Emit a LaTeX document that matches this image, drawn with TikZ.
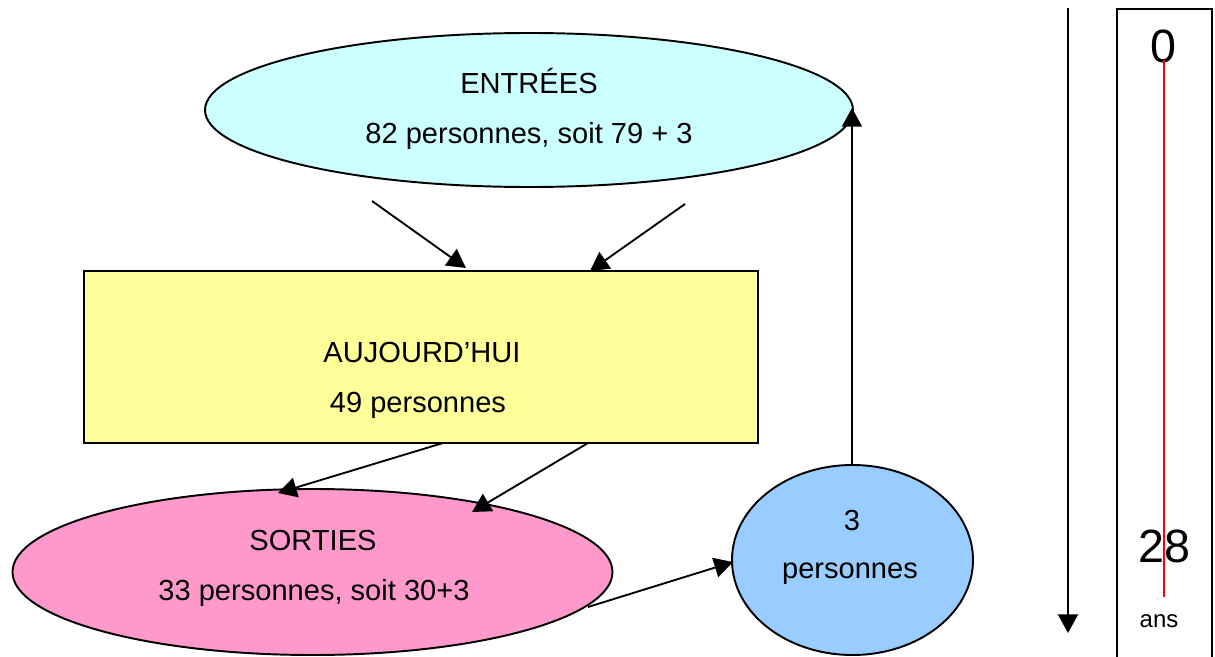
\documentclass[tikz,border=0pt]{standalone}
\usepackage{fontspec}
\setmainfont{Liberation Sans}
\usetikzlibrary{shapes.geometric,arrows.meta}

\definecolor{entreefill}{HTML}{CCFFFF}
\definecolor{todayfill}{HTML}{FFFF99}
\definecolor{sortiefill}{HTML}{FF99CC}
\definecolor{returnfill}{HTML}{99CCFF}

\tikzset{
  shapeline/.style={draw=black, line width=1.45pt},
  oval/.style={shapeline, ellipse, inner sep=0pt},
  label/.style={anchor=base, inner sep=0pt, font=\fontsize{21.8}{26}\selectfont},
  bignum/.style={anchor=base, inner sep=0pt, font=\fontsize{35}{40}\selectfont},
  flow/.style={line width=1.4pt, -{Triangle[length=14pt,width=15pt]}},
}

\begin{document}
\begin{tikzpicture}[x=0.75pt,y=-0.75pt]
\useasboundingbox (0,0) rectangle (1215,657);

% main shapes
\node[oval, fill=entreefill, minimum width=486pt, minimum height=115.5pt] (entrees) at (529,110) {};
\node[shapeline, rectangle, fill=todayfill, inner sep=0pt, minimum width=505.5pt, minimum height=129pt] (today) at (421,357) {};
\node[oval, fill=sortiefill, minimum width=450pt, minimum height=124.5pt] (sorties) at (312.5,572) {};
\node[oval, fill=returnfill, minimum width=180.75pt, minimum height=142.5pt] (retour) at (852.5,560) {};

% texts
\node[label] (tEntrees) at (529,93) {ENTRÉES};
\node[label] (tEntreesN) at (529,143) {82 personnes, soit 79 + 3};
\node[label] (tToday) at (422,362) {AUJOURD’HUI};
\node[label] (tTodayN) at (418,412) {49 personnes};
\node[label] (tSorties) at (313,550) {SORTIES};
\node[label] (tSortiesN) at (314,600) {33 personnes, soit 30+3};
\node[label] (tRetour) at (852,530) {3};
\node[label] (tRetourN) at (850,578) {personnes};

% connector end points
\coordinate (e1s) at (372,201);
\coordinate (e1t) at (466,268);
\coordinate (e2s) at (685,204);
\coordinate (e2t) at (590,271);
\coordinate (s1s) at (443,443);
\coordinate (s1t) at (278,493);
\coordinate (s2s) at (588,443);
\coordinate (s2t) at (472,512);
\coordinate (r1s) at (588,607);
\coordinate (r1t) at (733,562);
\coordinate (upS) at (852,465);
\coordinate (upT) at (852,108);

\draw[flow] (e1s) -- (e1t);
\draw[flow] (e2s) -- (e2t);
\draw[flow] (s1s) -- (s1t);
\draw[flow] (s2s) -- (s2t);
\draw[flow] (r1s) -- (r1t);
\draw[flow] (upS) -- (upT);

% time axis
\coordinate (axisTop) at (1068,8);
\coordinate (axisEnd) at (1068,633);
\draw[flow] (axisTop) -- (axisEnd);

% age scale
\coordinate (scaleBL) at (1117,657);
\coordinate (scaleTL) at (1117,9);
\coordinate (scaleTR) at (1212,9);
\coordinate (scaleBR) at (1212,657);
\draw[line width=1.4pt] (scaleBL) -- (scaleTL) -- (scaleTR) -- (scaleBR);

\node[bignum] (ageStart) at (1163,62) {0};
\node[bignum] (ageEnd) at (1164,562) {28};
\node[anchor=base, inner sep=0pt, font=\fontsize{18}{22}\selectfont] (ageUnit) at (1159,627) {ans};

\coordinate (lifeTop) at (1164,60);
\coordinate (lifeEnd) at (1164,597);
\draw[red, line width=1.1pt] (lifeTop) -- (lifeEnd);
\end{tikzpicture}
\end{document}
